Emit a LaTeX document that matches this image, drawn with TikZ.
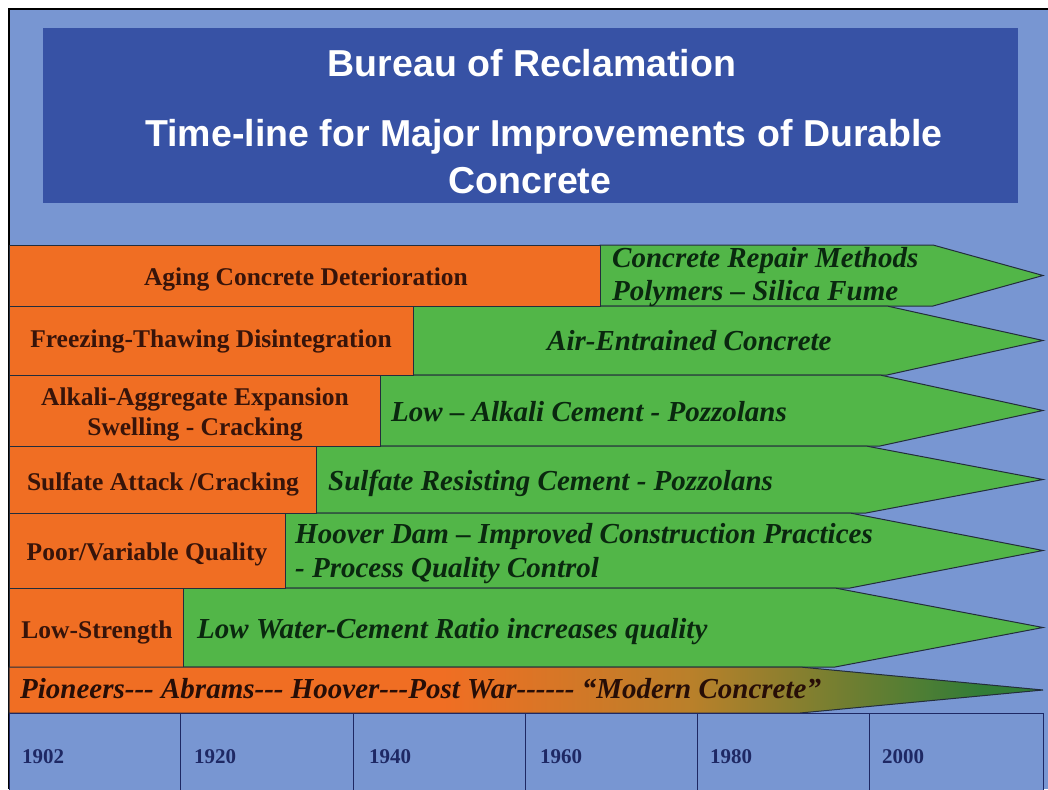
\documentclass[tikz,border=0pt]{standalone}
\usepackage{fontspec}
\newfontfamily\slideserif{Liberation Serif}
\newfontfamily\slidesans{Liberation Sans}
\usetikzlibrary{positioning}
\definecolor{SlideBlue}{RGB}{120,150,210}
\definecolor{TitleBlue}{RGB}{55,82,165}
\definecolor{Rust}{RGB}{240,110,35}
\definecolor{Leaf}{RGB}{82,182,72}
\definecolor{Ochre}{RGB}{185,128,42}
\definecolor{Moss}{RGB}{50,125,55}
\definecolor{Edge}{RGB}{35,45,60}
\definecolor{Navy}{RGB}{30,40,100}
\definecolor{Brown}{RGB}{55,20,10}
\definecolor{DarkLeaf}{RGB}{10,40,15}
\pgfdeclarehorizontalshading{agefade}{100bp}{color(0bp)=(Rust); color(46bp)=(Rust); color(58bp)=(Ochre); color(72bp)=(Moss); color(100bp)=(Moss)}
\tikzset{
  cause/.style={draw=Edge,fill=Rust,line width=1pt},
  fixarrow/.style={draw=Edge,fill=Leaf,line width=1pt,line join=miter},
  yearcell/.style={draw=Navy,fill=SlideBlue,line width=1pt},
  titletext/.style={font=\slidesans\fontsize{37.5}{40}\selectfont\bfseries,text=white,anchor=base,inner sep=0pt},
  causetext/.style={font=\slideserif\fontsize{25.5}{28}\selectfont\bfseries,text=Brown,anchor=base,inner sep=0pt},
  fixtext/.style={font=\slideserif\fontsize{29}{32}\selectfont\bfseries\itshape,text=DarkLeaf,anchor=base west,inner sep=0pt},
  yeartext/.style={font=\slideserif\fontsize{21}{24}\selectfont\bfseries,text=Navy,anchor=base west,inner sep=0pt}
}
\begin{document}
\begin{tikzpicture}[x=1pt,y=-1pt]
\useasboundingbox (0,0) rectangle (1048,789);
\fill[white] (0,0) rectangle (1048,789);
\fill[SlideBlue] (9,9) rectangle (1048,789);
\draw[black,line width=1.6pt] (9,789) -- (9,9) -- (1048,9);
% title block
\fill[TitleBlue] (43,28) rectangle (1018,203);
\node[titletext] (title) at (532,77) {Bureau of Reclamation};
\node[titletext] (sub1) at (544,146) {Time-line for Major Improvements of Durable};
\node[titletext] (sub2) at (530,193) {Concrete};
% green arrows: top/bottom/left/shoulder
\foreach \ya/\yb/\xa/\xs in {245/306/600/933,306/375/413/887,375/446/380/880,446/513/316/866,513/588/285/850,588/667/183/835}
  \draw[fixarrow] (\xa,\ya) -- (\xs,\ya) -- (1043,{(\ya+\yb)/2}) -- (\xs,\yb) -- (\xa,\yb) -- cycle;
% orange boxes
\foreach \ya/\yb/\xa in {245/306/600,306/375/413,375/446/380,446/513/316,513/588/285,588/667/183}
  \draw[cause] (9,\ya) rectangle (\xa,\yb);
% era band
\draw[draw=Edge,line width=1pt,shading=agefade] (9,667) -- (800,667) -- (1043,690) -- (800,713) -- (9,713) -- cycle;
% time scale
\foreach \xa/\xb in {9/180,180/353,353/525,525/697,697/869,869/1043}
  \draw[yearcell] (\xa,713) rectangle (\xb,800);
% problems
\node[causetext] (aging) at (306,285) {Aging Concrete Deterioration};
\node[causetext] (frost) at (211,347) {Freezing-Thawing Disintegration};
\node[causetext] (alkali1) at (195,405) {Alkali-Aggregate Expansion};
\node[causetext] (alkali2) at (195,435) {Swelling - Cracking};
\node[causetext] (sulfate) at (163,490) {Sulfate Attack /Cracking};
\node[causetext] (quality) at (147,560) {Poor/Variable Quality};
\node[causetext] (strength) at (97,638) {Low-Strength};
% remedies
\node[fixtext] (agingfix1) at (612,267) {Concrete Repair Methods};
\node[fixtext] (agingfix2) at (612,300) {Polymers – Silica Fume};
\node[fixtext] (frostfix) at (547,350) {Air-Entrained Concrete};
\node[fixtext] (alkalifix) at (391,421) {Low – Alkali Cement - Pozzolans};
\node[fixtext] (sulfatefix) at (328,490) {Sulfate Resisting Cement - Pozzolans};
\node[fixtext] (qualityfix1) at (295,543) {Hoover Dam – Improved Construction Practices};
\node[fixtext] (qualityfix2) at (295,577) {- Process Quality Control};
\node[fixtext] (strengthfix) at (197,638) {Low Water-Cement Ratio increases quality};
\node[fixtext,text=Brown!70!black] (era) at (20,698) {Pioneers--- Abrams--- Hoover---Post War------ “Modern Concrete”};
% years
\node[yeartext] (y1902) at (22,763) {1902};
\node[yeartext] (y1920) at (194,763) {1920};
\node[yeartext] (y1940) at (369,763) {1940};
\node[yeartext] (y1960) at (540,763) {1960};
\node[yeartext] (y1980) at (710,763) {1980};
\node[yeartext] (y2000) at (882,763) {2000};
\end{tikzpicture}
\end{document}
